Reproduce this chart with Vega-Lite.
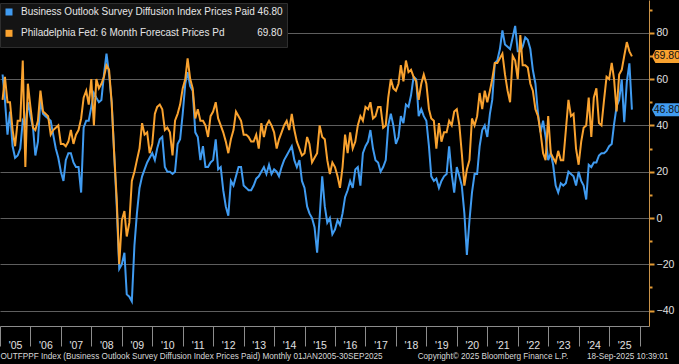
{
"$schema":"https://vega.github.io/schema/vega-lite/v6.json",
"width":649,"height":326,
"autosize":{"type":"none"},
"padding":{"left":0,"top":0,"right":30,"bottom":38},
"background":"#000000",
"config":{"view":{"stroke":null},"font":"Liberation Sans, Arial, sans-serif"},
"datasets":{
"main":[
{"d":"2005-01","b":62,"o":51},{"d":"2005-02","b":51,"o":61},{"d":"2005-03","b":36,"o":50},{"d":"2005-04","b":46,"o":50},{"d":"2005-05","b":31,"o":38},{"d":"2005-06","b":26,"o":31},{"d":"2005-07","b":27,"o":42},{"d":"2005-08","b":30,"o":42},{"d":"2005-09","b":42,"o":68},{"d":"2005-10","b":40,"o":22},{"d":"2005-11","b":50,"o":58},{"d":"2005-12","b":44,"o":48},
{"d":"2006-01","b":39,"o":39},{"d":"2006-02","b":27,"o":38},{"d":"2006-03","b":33,"o":42},{"d":"2006-04","b":51,"o":55},{"d":"2006-05","b":45,"o":46},{"d":"2006-06","b":44,"o":45},{"d":"2006-07","b":43,"o":44},{"d":"2006-08","b":42,"o":36},{"d":"2006-09","b":36,"o":38},{"d":"2006-10","b":30,"o":39},{"d":"2006-11","b":26,"o":40},{"d":"2006-12","b":20,"o":32},
{"d":"2007-01","b":16,"o":32},{"d":"2007-02","b":25,"o":31},{"d":"2007-03","b":28,"o":33},{"d":"2007-04","b":28,"o":38},{"d":"2007-05","b":24,"o":32},{"d":"2007-06","b":22,"o":36},{"d":"2007-07","b":22,"o":38},{"d":"2007-08","b":11,"o":43},{"d":"2007-09","b":39,"o":52},{"d":"2007-10","b":42,"o":55},{"d":"2007-11","b":42,"o":49},{"d":"2007-12","b":48,"o":60},
{"d":"2008-01","b":54,"o":40},{"d":"2008-02","b":52,"o":60},{"d":"2008-03","b":50,"o":56},{"d":"2008-04","b":51,"o":58},{"d":"2008-05","b":62,"o":61},{"d":"2008-06","b":71,"o":66},{"d":"2008-07","b":62,"o":64},{"d":"2008-08","b":50,"o":50},{"d":"2008-09","b":28,"o":28},{"d":"2008-10","b":5,"o":8},{"d":"2008-11","b":-22,"o":-20},{"d":"2008-12","b":-20,"o":-1},
{"d":"2009-01","b":-15,"o":3},{"d":"2009-02","b":-33,"o":-8},{"d":"2009-03","b":-34,"o":-2},{"d":"2009-04","b":-36,"o":16},{"d":"2009-05","b":-12,"o":20},{"d":"2009-06","b":2,"o":25},{"d":"2009-07","b":13,"o":30},{"d":"2009-08","b":18,"o":41},{"d":"2009-09","b":21,"o":36},{"d":"2009-10","b":24,"o":37},{"d":"2009-11","b":26,"o":28},{"d":"2009-12","b":28,"o":32},
{"d":"2010-01","b":25,"o":45},{"d":"2010-02","b":30,"o":48},{"d":"2010-03","b":34,"o":49},{"d":"2010-04","b":35,"o":47},{"d":"2010-05","b":22,"o":38},{"d":"2010-06","b":20,"o":39},{"d":"2010-07","b":20,"o":37},{"d":"2010-08","b":19,"o":27},{"d":"2010-09","b":20,"o":42},{"d":"2010-10","b":32,"o":45},{"d":"2010-11","b":34,"o":49},{"d":"2010-12","b":45,"o":56},
{"d":"2011-01","b":58,"o":60},{"d":"2011-02","b":63,"o":69},{"d":"2011-03","b":57,"o":60},{"d":"2011-04","b":55,"o":56},{"d":"2011-05","b":37,"o":43},{"d":"2011-06","b":35,"o":47},{"d":"2011-07","b":25,"o":42},{"d":"2011-08","b":31,"o":42},{"d":"2011-09","b":22,"o":40},{"d":"2011-10","b":22,"o":35},{"d":"2011-11","b":24,"o":44},{"d":"2011-12","b":25,"o":46},
{"d":"2012-01","b":34,"o":50},{"d":"2012-02","b":21,"o":43},{"d":"2012-03","b":22,"o":40},{"d":"2012-04","b":12,"o":37},{"d":"2012-05","b":5,"o":33},{"d":"2012-06","b":1,"o":28},{"d":"2012-07","b":16,"o":34},{"d":"2012-08","b":14,"o":38},{"d":"2012-09","b":18,"o":46},{"d":"2012-10","b":22,"o":44},{"d":"2012-11","b":22,"o":42},{"d":"2012-12","b":14,"o":36},
{"d":"2013-01","b":13,"o":36},{"d":"2013-02","b":12,"o":35},{"d":"2013-03","b":12,"o":33},{"d":"2013-04","b":14,"o":33},{"d":"2013-05","b":17,"o":36},{"d":"2013-06","b":18,"o":30},{"d":"2013-07","b":20,"o":41},{"d":"2013-08","b":22,"o":35},{"d":"2013-09","b":19,"o":40},{"d":"2013-10","b":23,"o":42},{"d":"2013-11","b":19,"o":40},{"d":"2013-12","b":21,"o":37},
{"d":"2014-01","b":20,"o":30},{"d":"2014-02","b":18,"o":34},{"d":"2014-03","b":22,"o":37},{"d":"2014-04","b":25,"o":40},{"d":"2014-05","b":27,"o":42},{"d":"2014-06","b":29,"o":38},{"d":"2014-07","b":31,"o":45},{"d":"2014-08","b":25,"o":38},{"d":"2014-09","b":22,"o":33},{"d":"2014-10","b":25,"o":30},{"d":"2014-11","b":16,"o":27},{"d":"2014-12","b":13,"o":28},
{"d":"2015-01","b":5,"o":35},{"d":"2015-02","b":2,"o":32},{"d":"2015-03","b":0,"o":24},{"d":"2015-04","b":-4,"o":26},{"d":"2015-05","b":-15,"o":28},{"d":"2015-06","b":0,"o":40},{"d":"2015-07","b":18,"o":35},{"d":"2015-08","b":5,"o":34},{"d":"2015-09","b":-2,"o":25},{"d":"2015-10","b":0,"o":19},{"d":"2015-11","b":-7,"o":24},{"d":"2015-12","b":-5,"o":22},
{"d":"2016-01","b":-1,"o":18},{"d":"2016-02","b":-3,"o":13},{"d":"2016-03","b":2,"o":22},{"d":"2016-04","b":9,"o":36},{"d":"2016-05","b":12,"o":28},{"d":"2016-06","b":16,"o":37},{"d":"2016-07","b":13,"o":30},{"d":"2016-08","b":21,"o":33},{"d":"2016-09","b":22,"o":40},{"d":"2016-10","b":14,"o":44},{"d":"2016-11","b":28,"o":42},{"d":"2016-12","b":31,"o":48},
{"d":"2017-01","b":33,"o":47},{"d":"2017-02","b":38,"o":50},{"d":"2017-03","b":30,"o":43},{"d":"2017-04","b":25,"o":44},{"d":"2017-05","b":24,"o":48},{"d":"2017-06","b":20,"o":48},{"d":"2017-07","b":22,"o":39},{"d":"2017-08","b":25,"o":40},{"d":"2017-09","b":40,"o":52},{"d":"2017-10","b":45,"o":60},{"d":"2017-11","b":40,"o":56},{"d":"2017-12","b":32,"o":55},
{"d":"2018-01","b":35,"o":58},{"d":"2018-02","b":44,"o":66},{"d":"2018-03","b":41,"o":59},{"d":"2018-04","b":49,"o":68},{"d":"2018-05","b":48,"o":63},{"d":"2018-06","b":53,"o":64},{"d":"2018-07","b":61,"o":61},{"d":"2018-08","b":60,"o":59},{"d":"2018-09","b":44,"o":51},{"d":"2018-10","b":47,"o":58},{"d":"2018-11","b":44,"o":62},{"d":"2018-12","b":42,"o":58},
{"d":"2019-01","b":31,"o":47},{"d":"2019-02","b":18,"o":43},{"d":"2019-03","b":16,"o":42},{"d":"2019-04","b":17,"o":30},{"d":"2019-05","b":13,"o":41},{"d":"2019-06","b":16,"o":33},{"d":"2019-07","b":18,"o":37},{"d":"2019-08","b":19,"o":37},{"d":"2019-09","b":31,"o":42},{"d":"2019-10","b":19,"o":40},{"d":"2019-11","b":11,"o":46},{"d":"2019-12","b":22,"o":47},
{"d":"2020-01","b":18,"o":40},{"d":"2020-02","b":14,"o":28},{"d":"2020-03","b":2,"o":14},{"d":"2020-04","b":-16,"o":21},{"d":"2020-05","b":-1,"o":25},{"d":"2020-06","b":11,"o":43},{"d":"2020-07","b":19,"o":40},{"d":"2020-08","b":19,"o":44},{"d":"2020-09","b":31,"o":54},{"d":"2020-10","b":38,"o":47},{"d":"2020-11","b":40,"o":55},{"d":"2020-12","b":35,"o":50},
{"d":"2021-01","b":45,"o":55},{"d":"2021-02","b":51,"o":60},{"d":"2021-03","b":67,"o":67},{"d":"2021-04","b":68,"o":67},{"d":"2021-05","b":73,"o":69},{"d":"2021-06","b":81,"o":71},{"d":"2021-07","b":75,"o":62},{"d":"2021-08","b":74,"o":55},{"d":"2021-09","b":73,"o":50},{"d":"2021-10","b":78,"o":70},{"d":"2021-11","b":83,"o":68},{"d":"2021-12","b":72,"o":60},
{"d":"2022-01","b":72,"o":79},{"d":"2022-02","b":74,"o":66},{"d":"2022-03","b":78,"o":66},{"d":"2022-04","b":77,"o":65},{"d":"2022-05","b":73,"o":58},{"d":"2022-06","b":64,"o":55},{"d":"2022-07","b":58,"o":47},{"d":"2022-08","b":45,"o":44},{"d":"2022-09","b":37,"o":37},{"d":"2022-10","b":42,"o":28},{"d":"2022-11","b":35,"o":25},{"d":"2022-12","b":25,"o":44},
{"d":"2023-01","b":28,"o":28},{"d":"2023-02","b":23,"o":26},{"d":"2023-03","b":14,"o":24},{"d":"2023-04","b":11,"o":29},{"d":"2023-05","b":15,"o":25},{"d":"2023-06","b":14,"o":25},{"d":"2023-07","b":15,"o":38},{"d":"2023-08","b":20,"o":51},{"d":"2023-09","b":19,"o":44},{"d":"2023-10","b":18,"o":45},{"d":"2023-11","b":14,"o":30},{"d":"2023-12","b":20,"o":23},
{"d":"2024-01","b":16,"o":33},{"d":"2024-02","b":14,"o":39},{"d":"2024-03","b":8,"o":40},{"d":"2024-04","b":23,"o":52},{"d":"2024-05","b":22,"o":35},{"d":"2024-06","b":24,"o":52},{"d":"2024-07","b":24,"o":56},{"d":"2024-08","b":27,"o":41},{"d":"2024-09","b":28,"o":40},{"d":"2024-10","b":28,"o":51},{"d":"2024-11","b":29,"o":61},{"d":"2024-12","b":31,"o":60},
{"d":"2025-01","b":32,"o":67},{"d":"2025-02","b":40.5,"o":60},{"d":"2025-03","b":48.3,"o":46},{"d":"2025-04","b":51,"o":62},{"d":"2025-05","b":59.8,"o":64},{"d":"2025-06","b":41.4,"o":70},{"d":"2025-07","b":58.8,"o":76},{"d":"2025-08","b":66.8,"o":72},{"d":"2025-09","b":46.8,"o":69.8}
],
"last":[{"d":"2025-09","s":"b","v":46.8,"t":"46.80"},{"d":"2025-09","s":"o","v":69.8,"t":"69.80"}]
},
"encoding":{
"x":{"field":"d","type":"temporal","timeUnit":"utcyearmonth","bandPosition":1,
 "scale":{"type":"utc","domain":[{"year":2005,"month":1,"date":1,"utc":true},{"year":2026,"month":4,"date":24,"utc":true}]},
 "axis":{"values":[{"year":2005,"month":1,"date":1,"utc":true},{"year":2006,"month":1,"date":1,"utc":true},{"year":2007,"month":1,"date":1,"utc":true},{"year":2008,"month":1,"date":1,"utc":true},{"year":2009,"month":1,"date":1,"utc":true},{"year":2010,"month":1,"date":1,"utc":true},{"year":2011,"month":1,"date":1,"utc":true},{"year":2012,"month":1,"date":1,"utc":true},{"year":2013,"month":1,"date":1,"utc":true},{"year":2014,"month":1,"date":1,"utc":true},{"year":2015,"month":1,"date":1,"utc":true},{"year":2016,"month":1,"date":1,"utc":true},{"year":2017,"month":1,"date":1,"utc":true},{"year":2018,"month":1,"date":1,"utc":true},{"year":2019,"month":1,"date":1,"utc":true},{"year":2020,"month":1,"date":1,"utc":true},{"year":2021,"month":1,"date":1,"utc":true},{"year":2022,"month":1,"date":1,"utc":true},{"year":2023,"month":1,"date":1,"utc":true},{"year":2024,"month":1,"date":1,"utc":true},{"year":2025,"month":1,"date":1,"utc":true},{"year":2026,"month":1,"date":1,"utc":true}],
  "labelExpr":"utcyear(datum.value) > 2025 ? '' : \"'\" + utcFormat(datum.value, '%y')",
  "labelOffset":15,"labelAlign":"center","labelPadding":-6,"labelBaseline":"top",
  "tickSize":20,"tickColor":"#8c8c8c","tickWidth":1,"domainColor":"#8c8c8c","domainWidth":1,
  "labelColor":"#e0e0e0","labelFontSize":10.5,"labelOverlap":false,"labelFlush":false,"labelBound":false,"grid":false,
  "title":"OUTFPPF Index (Business Outlook Survey Diffusion Index Prices Paid)  Monthly 01JAN2005-30SEP2025\u2003\u2003\u2003\u2003 Copyright© 2025 Bloomberg Finance L.P.\u2003\u2003 18-Sep-2025 10:39:01",
  "titleX":0,"titleY":30,"titleAlign":"left","titleAnchor":"start","titleBaseline":"middle","titleColor":"#d8d8d8","titleFontSize":8.2,"titleFontWeight":"normal"}},
"y":{"field":"v","type":"quantitative",
 "scale":{"domain":[-46.65,94.17],"nice":false,"zero":false},
 "axis":{"orient":"right","values":[-40,-30,-20,-10,0,10,20,30,40,50,60,70,80,90],
  "labelExpr":"datum.value % 20 == 0 ? datum.label : ''",
  "grid":true,"gridColor":"#5e5e5e","gridWidth":1,
  "gridOpacity":{"condition":{"test":"datum.value % 20 == 0","value":1},"value":0},
  "tickSize":{"condition":{"test":"datum.value % 20 == 0","value":5},"value":3},
  "tickColor":"#e39a34","tickWidth":2,"domainColor":"#c99249","domainWidth":1,
  "labelColor":"#e0e0e0","labelFontSize":10.5,"labelPadding":2,"title":null}}
},
"layer":[
{"data":{"name":"main"},"transform":[{"fold":["b","o"],"as":["s","v"]}],
 "mark":{"type":"line","strokeWidth":2},
 "encoding":{"color":{"field":"s","type":"nominal","scale":{"domain":["b","o"],"range":["#409bf0","#f9a22f"]},
  "legend":{"orient":"none","legendX":0,"legendY":3,"direction":"vertical","title":null,"fillColor":"#141414","strokeColor":"#2e2e2e","padding":4,"rowPadding":1.3,"symbolType":"square","symbolSize":9,"symbolStrokeWidth":4,"symbolOpacity":1,"labelColor":"#e6e6e6","labelFontSize":10,"labelLimit":0,"labelOffset":7,
   "labelExpr":"datum.value == 'b' ? 'Business Outlook Survey Diffusion Index Prices Paid 46.80' : 'Philadelphia Fed: 6 Month Forecast Prices Pd\u2003\u2003\u2003 69.80'"}}}},
{"data":{"name":"last"},
 "mark":{"type":"point","filled":true,"opacity":1,"shape":"M2,0L2.35,-0.65L5,-0.65L5,0.65L2.35,0.65Z","size":400},
 "encoding":{"fill":{"field":"s","type":"nominal","scale":{"domain":["b","o"],"range":["#409bf0","#f9a22f"]},"legend":null}}},
{"data":{"name":"last"},
 "mark":{"type":"text","dx":35,"align":"center","baseline":"middle","fontSize":10.5,"color":"#111111"},
 "encoding":{"text":{"field":"t","type":"nominal"}}}
]
}
